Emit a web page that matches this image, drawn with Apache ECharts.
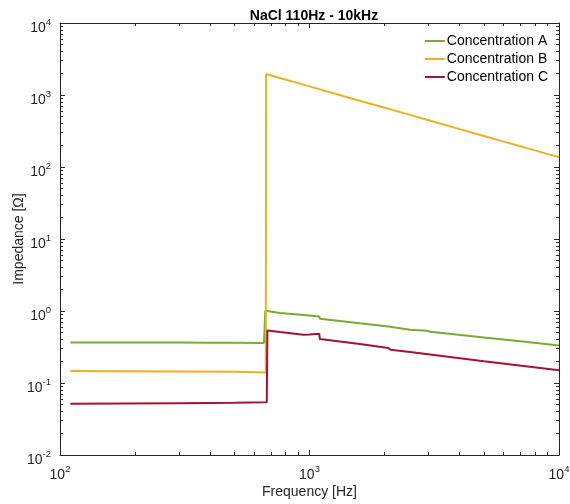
<!DOCTYPE html>
<html>
<head>
<meta charset="utf-8">
<script src="https://cdn.jsdelivr.net/npm/echarts@6/dist/echarts.min.js"></script>
<style>html,body{margin:0;padding:0;background:#fff;}#c{width:570px;height:504px;}</style>
</head>
<body>
<div id="c"></div>
<script>
const seriesNames = ['Concentration A', 'Concentration B', 'Concentration C'];
const freqA = [110, 200, 300, 400, 500, 657, 665, 762, 1000, 1094, 1100, 1591, 2070, 2090, 2530, 2950, 3000, 3050, 5000, 7000, 10000];
const valA  = [0.366, 0.365, 0.364, 0.363, 0.362, 0.36, 1.01, 0.94, 0.865, 0.84, 0.78, 0.675, 0.61, 0.595, 0.55, 0.533, 0.54, 0.515, 0.43, 0.38, 0.333];
const freqB = [110, 300, 500, 668, 670, 690, 762, 1000, 1500, 2000, 2530, 3000, 4000, 5000, 6000, 7000, 8000, 9000, 10000];
const valB  = [0.147, 0.145, 0.143, 0.14, 1950, 1900, 1722, 1318, 880, 665, 529, 447, 336, 270, 225, 194, 170, 151, 138];
const freqC = [110, 300, 500, 674, 678, 762, 944, 1000, 1094, 1100, 1591, 2070, 2110, 2530, 5000, 10000];
const valC  = [0.0516, 0.0525, 0.053, 0.054, 0.538, 0.51, 0.469, 0.472, 0.484, 0.408, 0.348, 0.306, 0.29, 0.27, 0.20, 0.15];
const xMajorTicks = [100, 1000, 10000];
const yMajorTicks = [0.01, 0.1, 1, 10, 100, 1000, 10000];
const minorMultipliers = [2, 3, 4, 5, 6, 7, 8, 9];

function minorFor(majors) {
  const out = [];
  for (let i = 0; i < majors.length - 1; i++) minorMultipliers.forEach(m => out.push(majors[i] * m));
  return out;
}
const lg = arr => arr.map(v => Math.log10(v));
const colors = ['#77AC30', '#EDB120', '#A2142F'];
const FONT = '"Liberation Sans", Arial, Helvetica, sans-serif';
const INK = '#262626';
const richX = {
  b: { fontSize: 14, fontFamily: FONT, color: INK, padding: [8, 0, 0, 0] },
  s: { fontSize: 9.5, fontFamily: FONT, color: INK, verticalAlign: 'top', padding: [4, 0, 0, 0] }
};
const richY = {
  b: { fontSize: 14, fontFamily: FONT, color: INK, padding: [10, 0, 0, 0] },
  s: { fontSize: 9.5, fontFamily: FONT, color: INK, verticalAlign: 'top', padding: [6, 0, 0, 0] }
};
const fmt = v => '{b|10}{s|' + Math.round(Math.log10(v)) + '}';

function mainAxis(isX) {
  const majors = isX ? xMajorTicks : yMajorTicks;
  return {
    type: 'log', logBase: 10, position: isX ? 'bottom' : 'left',
    min: majors[0], max: majors[majors.length - 1],
    axisLine: { show: true, onZero: false, lineStyle: { color: INK, width: 1 } },
    axisTick: { show: false },
    axisLabel: { show: true, formatter: fmt, rich: isX ? richX : richY, margin: isX ? 5 : 9,
                 customValues: majors, hideOverlap: false },
    splitLine: { show: false }, minorTick: { show: false },
    name: isX ? 'Frequency [Hz]' : 'Impedance [Ω]',
    nameLocation: 'middle', nameGap: isX ? 30 : 34, nameMoveOverlap: false,
    nameTextStyle: { fontSize: 14, fontFamily: FONT, color: INK },
    silent: true
  };
}
function tickAxis(isX, pos, minor, showLine) {
  const majors = isX ? xMajorTicks : yMajorTicks;
  const vals = minor ? minorFor(majors) : majors;
  return {
    type: 'value', position: pos,
    min: Math.log10(majors[0]), max: Math.log10(majors[majors.length - 1]),
    axisLine: { show: showLine, onZero: false, lineStyle: { color: INK, width: 1 } },
    axisTick: { show: true, inside: true, length: minor ? 3 : 5, lineStyle: { color: INK, width: 1 },
                customValues: lg(vals) },
    axisLabel: { show: false }, splitLine: { show: false }, minorTick: { show: false },
    silent: true
  };
}

const chart = echarts.init(document.getElementById('c'), null, { renderer: 'canvas' });
const mk = (i, f, v) => ({
  name: seriesNames[i], type: 'line', showSymbol: false, symbol: 'none',
  xAxisIndex: 0, yAxisIndex: 0,
  lineStyle: { color: colors[i], width: 2 }, itemStyle: { color: colors[i] },
  data: f.map((x, k) => [x, v[k]])
});
chart.setOption({
  animation: false,
  title: { text: 'NaCl 110Hz - 10kHz', left: 309, top: 4, textAlign: 'center',
           textStyle: { fontSize: 14, fontWeight: 'bold', fontFamily: FONT, color: '#000' } },
  legend: { orient: 'vertical', right: 17, top: 29, itemWidth: 20, itemHeight: 2, itemGap: 4,
            icon: 'rect', textStyle: { fontSize: 14, fontFamily: FONT, color: '#000', padding: [0, 0, 0, -3] },
            data: seriesNames },
  grid: { left: 60, right: 11, top: 23, bottom: 49, containLabel: false, outerBoundsMode: 'none' },
  xAxis: [mainAxis(true), tickAxis(true, 'bottom', false, false), tickAxis(true, 'bottom', true, false),
          tickAxis(true, 'top', false, true), tickAxis(true, 'top', true, false)],
  yAxis: [mainAxis(false), tickAxis(false, 'left', false, false), tickAxis(false, 'left', true, false),
          tickAxis(false, 'right', false, true), tickAxis(false, 'right', true, false)],
  series: [mk(0, freqA, valA), mk(1, freqB, valB), mk(2, freqC, valC)]
});
</script>
</body>
</html>
